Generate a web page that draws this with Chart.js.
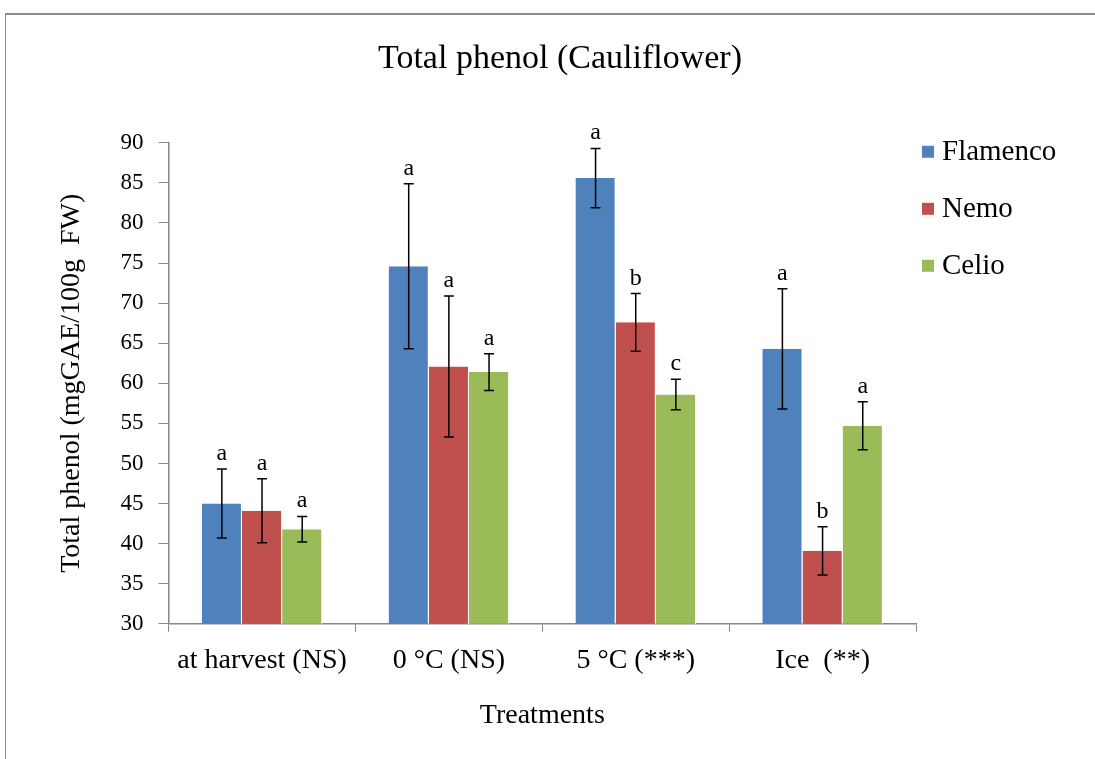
<!DOCTYPE html>
<html>
<head>
<meta charset="utf-8">
<script src="https://cdn.jsdelivr.net/npm/chart.js@4.4.0/dist/chart.umd.min.js"></script>
<style>
html, body { margin: 0; padding: 0; background: #fff; }
#frame { position: absolute; left: 5px; top: 13px; width: 1095px; height: 760px; border-left: 1px solid #8c8c8c; border-top: 2px solid #8c8c8c; }
#wrap { position: absolute; left: 0; top: 0; width: 1095px; height: 759px; }
</style>
</head>
<body>
<div id="frame"></div>
<div id="wrap"><canvas id="chart" width="1095" height="759"></canvas></div>
<script>
// Data
const categories = ['at harvest (NS)', '0 °C (NS)', '5 °C (***)', 'Ice  (**)'];
const flamenco = [45.0, 74.6, 85.6, 64.3];
const flamencoErr = [4.3, 10.3, 3.7, 7.5];
const flamencoLetters = ['a', 'a', 'a', 'a'];
const nemo = [44.1, 62.1, 67.6, 39.1];
const nemoErr = [4.0, 8.8, 3.6, 3.0];
const nemoLetters = ['a', 'a', 'b', 'b'];
const celio = [41.8, 61.4, 58.6, 54.7];
const celioErr = [1.6, 2.3, 1.9, 3.0];
const celioLetters = ['a', 'a', 'c', 'a'];

const serif = '"Liberation Serif", "Times New Roman", serif';
const axisColor = '#868686';
const legendWidth = 149;

// Error bars + significance letters
const errorBars = {
    id: 'errorBars',
    afterDatasetsDraw(chart) {
        const { ctx, scales: { y } } = chart;
        ctx.save();
        chart.data.datasets.forEach((ds, i) => {
            const meta = chart.getDatasetMeta(i);
            meta.data.forEach((bar, j) => {
                const v = ds.data[j], e = ds.errors[j];
                const top = y.getPixelForValue(v + e);
                const bot = y.getPixelForValue(v - e);
                ctx.strokeStyle = '#000';
                ctx.lineWidth = 1.5;
                ctx.beginPath();
                ctx.moveTo(bar.x, top); ctx.lineTo(bar.x, bot);
                ctx.moveTo(bar.x - 5, top); ctx.lineTo(bar.x + 5, top);
                ctx.moveTo(bar.x - 5, bot); ctx.lineTo(bar.x + 5, bot);
                ctx.stroke();
                ctx.fillStyle = '#000';
                ctx.font = '24px ' + serif;
                ctx.textAlign = 'center';
                ctx.textBaseline = 'alphabetic';
                ctx.fillText(ds.letters[j], bar.x, top - 9);
            });
        });
        ctx.restore();
    }
};

// Legend as its own layout box on the right (Excel style)
const sideLegend = {
    id: 'sideLegend',
    beforeInit(chart) {
        const box = {
            position: 'right',
            weight: 0,
            fullSize: false,
            options: { display: true, stackWeight: 1 },
            left: 0, top: 0, right: 0, bottom: 0, width: 0, height: 0,
            isHorizontal: () => false,
            getPadding: () => ({ left: 0, right: 0, top: 0, bottom: 0 }),
            update(maxWidth, maxHeight) {
                this.width = legendWidth;
                this.height = maxHeight;
            },
            draw() {
                const ctx = chart.ctx;
                ctx.save();
                ctx.font = '29px ' + serif;
                ctx.textBaseline = 'middle';
                ctx.textAlign = 'left';
                chart.data.datasets.forEach((ds, i) => {
                    const cy = chart.chartArea.top + 9 + i * 57;
                    const x = this.left + 6;
                    ctx.fillStyle = ds.backgroundColor;
                    ctx.fillRect(x, cy - 6, 12, 12);
                    ctx.fillStyle = '#000';
                    ctx.fillText(ds.label, x + 20, cy + 1);
                });
                ctx.restore();
            },
        };
        Chart.layouts.addBox(chart, box);
    }
};

const barStyle = { borderColor: '#fff', borderWidth: { right: 1 }, borderSkipped: false };

new Chart(document.getElementById('chart'), {
    type: 'bar',
    data: {
        labels: categories,
        datasets: [
            { label: 'Flamenco', data: flamenco, errors: flamencoErr, letters: flamencoLetters, backgroundColor: '#4F81BD', ...barStyle },
            { label: 'Nemo', data: nemo, errors: nemoErr, letters: nemoLetters, backgroundColor: '#C0504D', ...barStyle },
            { label: 'Celio', data: celio, errors: celioErr, letters: celioLetters, backgroundColor: '#9BBB59', ...barStyle },
        ],
    },
    options: {
        responsive: false,
        animation: false,
        devicePixelRatio: 1,
        layout: { padding: { left: 55, right: 30, top: 0, bottom: 27 } },
        datasets: { bar: { categoryPercentage: 0.645, barPercentage: 1 } },
        scales: {
            y: {
                min: 30,
                max: 90,
                ticks: { stepSize: 5, color: '#000', font: { family: serif, size: 23 }, padding: 15 },
                grid: { drawOnChartArea: false, tickLength: 10, color: axisColor },
                border: { color: axisColor, width: 1.5 },
                title: { display: true, text: 'Total phenol (mgGAE/100g  FW)', color: '#000', font: { family: serif, size: 28 }, padding: { top: 0, bottom: 17 } },
            },
            x: {
                ticks: { color: '#000', font: { family: serif, size: 28 }, padding: 12, maxRotation: 0, autoSkip: false },
                grid: { drawOnChartArea: false, tickLength: 8, color: axisColor, offset: true },
                border: { color: axisColor, width: 1.5 },
                title: { display: true, text: 'Treatments', color: '#000', font: { family: serif, size: 28 }, padding: { top: 9, bottom: 0 } },
            },
        },
        plugins: {
            legend: { display: false },
            tooltip: { enabled: false },
            title: {
                display: true,
                text: 'Total phenol (Cauliflower)',
                color: '#000',
                font: { family: serif, size: 34, weight: 'normal' },
                padding: { top: 39, bottom: 63 },
            },
        },
    },
    plugins: [errorBars, sideLegend],
});
</script>
</body>
</html>
